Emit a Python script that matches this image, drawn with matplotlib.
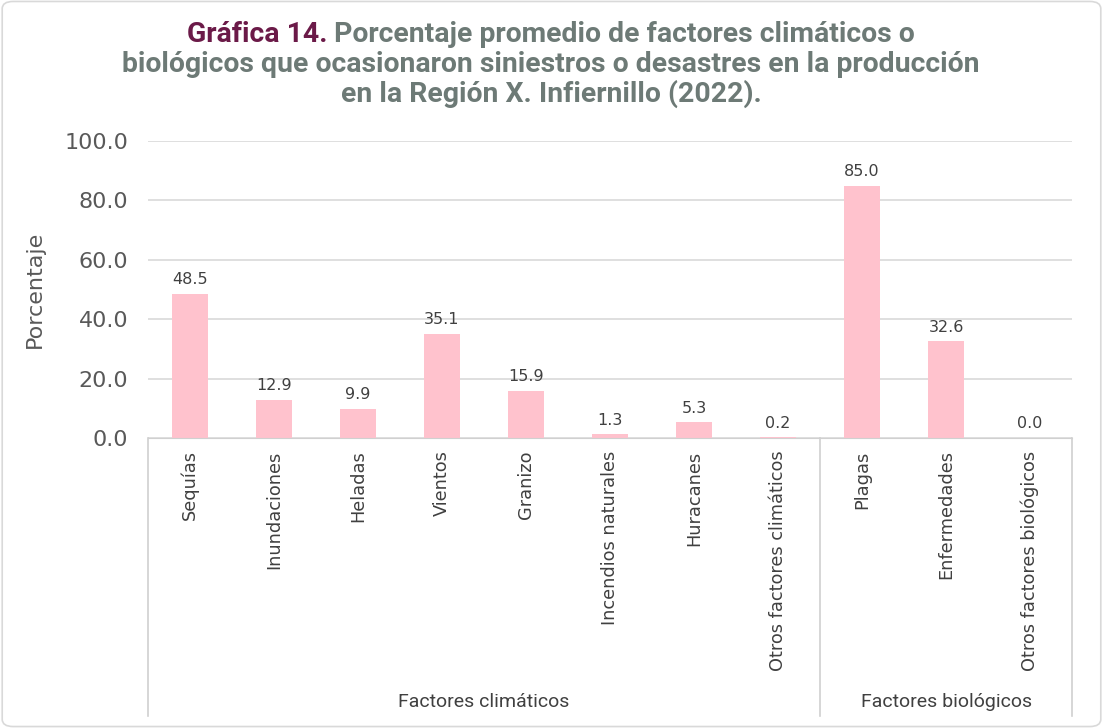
import numpy as np
import matplotlib.pyplot as plt
from matplotlib.lines import Line2D
from matplotlib.patches import FancyBboxPatch

categorias = ["Sequías", "Inundaciones", "Heladas", "Vientos", "Granizo",
              "Incendios naturales", "Huracanes", "Otros factores climáticos",
              "Plagas", "Enfermedades", "Otros factores biológicos"]
valores = [48.5, 12.9, 9.9, 35.1, 15.9, 1.3, 5.3, 0.2, 85.0, 32.6, 0.0]
grupos = ["Factores climáticos", "Factores biológicos"]
n_grupo = [8, 3]

gris = '#595959'
titulo_gris = '#6d7a76'
granate = '#6b1a48'
rosa = '#ffc2cd'

fig = plt.figure(figsize=(11.03, 7.28), dpi=100)
ax = fig.add_axes([0.134, 0.3984, 0.838, 0.4079])

x = np.arange(len(categorias))
ax.bar(x, valores, width=0.43, color=rosa, zorder=2)
for xi, v in zip(x, valores):
    ax.text(xi, v + 2.2, f"{v:.1f}", ha='center', va='bottom', fontsize=11.5, color='#404040')

ax.set_xlim(-0.5, len(categorias) - 0.5)
ax.set_ylim(0, 100)
ax.set_yticks(np.arange(0, 101, 20))
ax.set_yticklabels([f"{t:.1f}" for t in np.arange(0, 101, 20)], fontsize=16, color=gris)
ax.grid(axis='y', color='#d9d9d9', linewidth=1.2, zorder=0)
ax.set_axisbelow(True)
for s in ['top', 'right', 'left']:
    ax.spines[s].set_visible(False)
ax.spines['bottom'].set_color('#d0d0d0')
ax.tick_params(axis='y', length=0, pad=14)
ax.tick_params(axis='x', length=0, pad=9)
ax.set_xticks(x)
ax.set_xticklabels(categorias, rotation=90, fontsize=12.8, color='#404040', va='top')
ax.set_ylabel("Porcentaje", fontsize=16, color=gris, labelpad=14)

# separadores de grupos
trans = ax.get_xaxis_transform()
bordes = np.concatenate([[0], np.cumsum(n_grupo)]) - 0.5
for b in bordes:
    ax.add_line(Line2D([b, b], [0, -0.935], transform=trans, color='#d0d0d0',
                       linewidth=1.2, clip_on=False))
for g, a, c in zip(grupos, bordes[:-1], bordes[1:]):
    ax.text((a + c) / 2, -0.89, g, transform=trans, ha='center', va='center',
            fontsize=14, color='#404040', family='Roboto')

# marco
fig.patches.append(FancyBboxPatch((0.002, 0.002), 0.996, 0.996, boxstyle='round,pad=0,rounding_size=0.01',
                                  transform=fig.transFigure, fill=False, edgecolor='#d9d9d9', linewidth=1.2))

# titulo
tfont = dict(fontsize=20.4, fontweight='semibold', family='Roboto')
fig.canvas.draw()
r = fig.canvas.get_renderer()
t1 = fig.text(0, 0.953, "Gráfica 14.", color=granate, va='center', **tfont)
t2 = fig.text(0, 0.953, " Porcentaje promedio de factores climáticos o", color=titulo_gris, va='center', **tfont)
w1 = t1.get_window_extent(r).width / fig.bbox.width
w2 = t2.get_window_extent(r).width / fig.bbox.width
x0 = 0.4995 - (w1 + w2) / 2
t1.set_x(x0)
t2.set_x(x0 + w1)
fig.text(0.4995, 0.912, "biológicos que ocasionaron siniestros o desastres en la producción",
         color=titulo_gris, ha='center', va='center', **tfont)
fig.text(0.4995, 0.871, "en la Región X. Infiernillo (2022).",
         color=titulo_gris, ha='center', va='center', **tfont)

fig.savefig("out.png", dpi=100)
